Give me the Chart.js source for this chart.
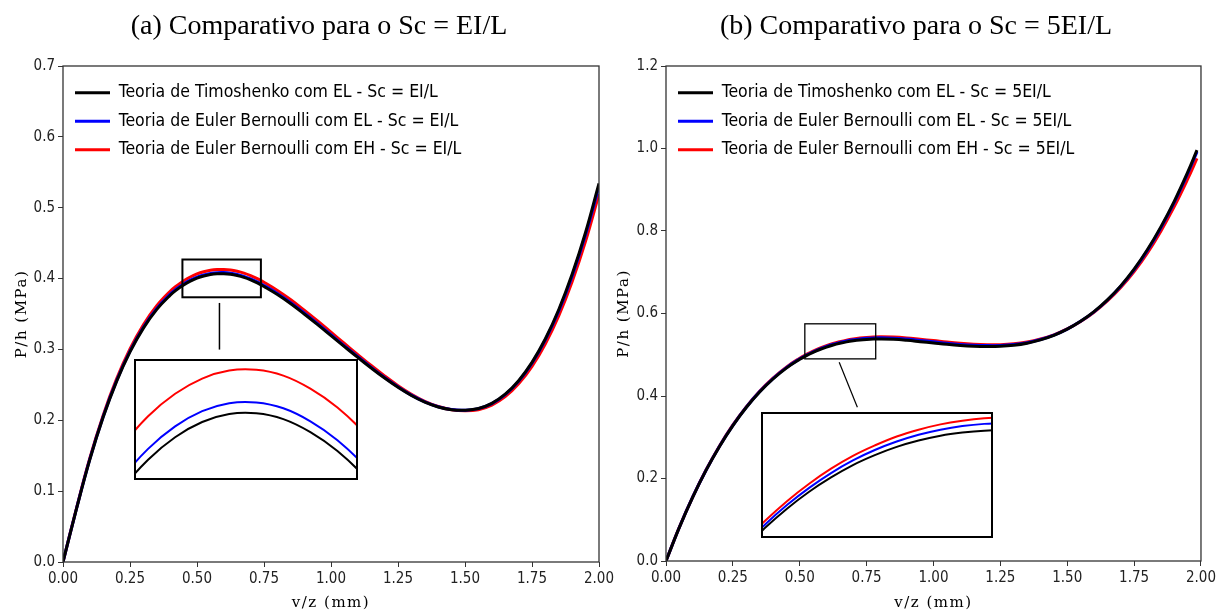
<!DOCTYPE html>
<html lang="pt">
<head>
<meta charset="UTF-8">
<title>Comparativo Sc</title>
<script src="https://cdn.jsdelivr.net/npm/chart.js@4.4.1/dist/chart.umd.min.js"></script>
<style>
  body { margin: 0; background: #fff; }
  #figure { position: relative; width: 1219px; height: 613px; overflow: hidden; }
  .pane { position: absolute; top: 0; height: 613px; }
  .inset { position: absolute; background: #fff; }
</style>
</head>
<body>
<div id="figure">
  <div class="pane" style="left:0;width:630px"><canvas id="chartA"></canvas></div>
  <div class="pane" style="left:610px;width:609px"><canvas id="chartB"></canvas></div>
  <div class="inset" style="left:134px;top:359px;width:224px;height:121px"><canvas id="insetA"></canvas></div>
  <div class="inset" style="left:761px;top:412px;width:232px;height:126px"><canvas id="insetB"></canvas></div>
</div>
<script>
// (a) Sc = EI/L
const vzA = [0, 0.05, 0.1, 0.15, 0.2, 0.25, 0.3, 0.35, 0.4,
  0.425, 0.45, 0.475, 0.5, 0.525, 0.55, 0.575, 0.6, 0.625, 0.65, 0.675, 0.7, 0.725, 0.75,
  0.8, 0.85, 0.9, 0.95, 1.0, 1.05, 1.1, 1.15, 1.2, 1.25, 1.3, 1.35, 1.4, 1.45, 1.5,
  1.55, 1.6, 1.65, 1.7, 1.75, 1.8, 1.85, 1.9, 1.95, 2.0];
const timoA = [0, 0.0745, 0.1445, 0.2045, 0.2549, 0.2965, 0.3301, 0.3565, 0.3765,
  0.3844, 0.3909, 0.3963, 0.4005, 0.4036, 0.4057, 0.4068, 0.4069, 0.4061, 0.4043, 0.4017, 0.3982, 0.3939, 0.3888,
  0.3775, 0.3645, 0.3500, 0.3350, 0.3195, 0.3040, 0.2887, 0.2738, 0.2596, 0.2465, 0.2350, 0.2256, 0.2188, 0.2150, 0.2143,
  0.2166, 0.2239, 0.2368, 0.2559, 0.2818, 0.3151, 0.3564, 0.4063, 0.4654, 0.5343];
const eblA = [0, 0.0748, 0.1451, 0.2053, 0.2559, 0.2977, 0.3314, 0.3579, 0.3780,
  0.3859, 0.3924, 0.3978, 0.4020, 0.4051, 0.4072, 0.4083, 0.4084, 0.4076, 0.4058, 0.4032, 0.3997, 0.3954, 0.3903,
  0.3790, 0.3660, 0.3514, 0.3363, 0.3207, 0.3051, 0.2897, 0.2747, 0.2604, 0.2472, 0.2355, 0.2260, 0.2191, 0.2151, 0.2143,
  0.2164, 0.2234, 0.2361, 0.2549, 0.2806, 0.3136, 0.3544, 0.4038, 0.4622, 0.5303];
const ebhA = [0, 0.0755, 0.1465, 0.2073, 0.2584, 0.3007, 0.3349, 0.3617, 0.3821,
  0.3901, 0.3967, 0.4022, 0.4065, 0.4096, 0.4117, 0.4128, 0.4129, 0.4121, 0.4103, 0.4077, 0.4042, 0.3999, 0.3948,
  0.3833, 0.3701, 0.3554, 0.3401, 0.3243, 0.3084, 0.2927, 0.2773, 0.2626, 0.2489, 0.2368, 0.2268, 0.2194, 0.2149, 0.2135,
  0.2150, 0.2214, 0.2333, 0.2514, 0.2761, 0.3081, 0.3477, 0.3958, 0.4528, 0.5193];
const labelsA = [
  'Teoria de Timoshenko com EL - Sc = EI/L',
  'Teoria de Euler Bernoulli com EL - Sc = EI/L',
  'Teoria de Euler Bernoulli com EH - Sc = EI/L'
];

// (b) Sc = 5EI/L
const vzB = [0, 0.05, 0.1, 0.15, 0.2, 0.25, 0.3, 0.35, 0.4, 0.45, 0.5,
  0.525, 0.55, 0.575, 0.6, 0.625, 0.65, 0.675, 0.7, 0.725, 0.75, 0.775,
  0.8, 0.85, 0.9, 0.95, 1.0, 1.05, 1.1, 1.15, 1.2, 1.25, 1.3, 1.35, 1.4, 1.45, 1.5,
  1.55, 1.6, 1.65, 1.7, 1.75, 1.8, 1.85, 1.9, 1.95, 1.985];
const timoB = [0, 0.0817, 0.1549, 0.2202, 0.2778, 0.3283, 0.3720, 0.4096, 0.4412, 0.4676, 0.4889,
  0.4979, 0.5058, 0.5127, 0.5186, 0.5237, 0.5278, 0.5312, 0.5338, 0.5358, 0.5371, 0.5379,
  0.5381, 0.5373, 0.5350, 0.5318, 0.5285, 0.5252, 0.5225, 0.5207, 0.5200, 0.5205, 0.5230, 0.5280, 0.5360, 0.5470, 0.5620,
  0.5810, 0.6045, 0.6330, 0.6670, 0.7075, 0.7550, 0.8100, 0.8720, 0.9420, 0.9960];
const eblB = [0, 0.0818, 0.1552, 0.2206, 0.2784, 0.3290, 0.3728, 0.4106, 0.4423, 0.4688, 0.4902,
  0.4993, 0.5073, 0.5143, 0.5204, 0.5256, 0.5299, 0.5334, 0.5362, 0.5383, 0.5398, 0.5407,
  0.5410, 0.5403, 0.5380, 0.5348, 0.5315, 0.5280, 0.5251, 0.5231, 0.5222, 0.5224, 0.5246, 0.5293, 0.5370, 0.5476, 0.5623,
  0.5810, 0.6040, 0.6322, 0.6658, 0.7059, 0.7530, 0.8075, 0.8690, 0.9384, 0.9920];
const ebhB = [0, 0.0820, 0.1554, 0.2211, 0.2790, 0.3298, 0.3738, 0.4117, 0.4435, 0.4701, 0.4916,
  0.5008, 0.5089, 0.5160, 0.5222, 0.5275, 0.5318, 0.5355, 0.5383, 0.5405, 0.5420, 0.5430,
  0.5434, 0.5429, 0.5408, 0.5376, 0.5343, 0.5307, 0.5277, 0.5256, 0.5245, 0.5245, 0.5265, 0.5309, 0.5382, 0.5484, 0.5625,
  0.5805, 0.6030, 0.6303, 0.6630, 0.7017, 0.7470, 0.7997, 0.8590, 0.9255, 0.9760];
const labelsB = [
  'Teoria de Timoshenko com EL - Sc = 5EI/L',
  'Teoria de Euler Bernoulli com EL - Sc = 5EI/L',
  'Teoria de Euler Bernoulli com EH - Sc = 5EI/L'
];

// tick labels
const xTicks = [0, 0.25, 0.5, 0.75, 1.0, 1.25, 1.5, 1.75, 2.0];
const yTicksA = [0, 0.1, 0.2, 0.3, 0.4, 0.5, 0.6, 0.7];
const yTicksB = [0, 0.2, 0.4, 0.6, 0.8, 1.0, 1.2];

const colors = ['#000000', '#0000ff', '#ff0000'];
const sansFont = '"DejaVu Sans Condensed", "DejaVu Sans", sans-serif';
const serifFont = '"DejaVu Serif", serif';

// frame, title, axis titles and zoom marks, drawn on top of the chart
const figurePlugin = {
  id: 'figure',
  afterLayout(chart, args, o) {
    // legend sits inside the plot, a few px below its top edge
    const lg = chart.legend;
    if (o.legendShift && lg) {
      const a = chart.chartArea;
      lg.left = a.left + o.legendShift.x;
      lg.top = a.top + o.legendShift.y;
      lg.bottom = a.bottom;
    }
  },
  afterDraw(chart, args, o) {
    const {ctx, chartArea: a} = chart;
    ctx.save();
    if (o.frame) {
      const d = o.frame.inset || 0;
      ctx.strokeStyle = o.frame.color;
      ctx.lineWidth = o.frame.width;
      ctx.strokeRect(a.left + d, a.top + d, a.right - a.left - 2 * d, a.bottom - a.top - 2 * d);
    }
    if (o.zoom) {
      const {x, y} = chart.scales;
      const z = o.zoom;
      const x0 = x.getPixelForValue(z.x[0]), x1 = x.getPixelForValue(z.x[1]);
      const y0 = y.getPixelForValue(z.y[1]), y1 = y.getPixelForValue(z.y[0]);
      ctx.strokeStyle = '#000';
      ctx.lineWidth = z.width;
      ctx.strokeRect(x0, y0, x1 - x0, y1 - y0);
      ctx.lineWidth = z.leaderWidth;
      ctx.beginPath();
      ctx.moveTo(x.getPixelForValue(z.leader[0][0]), y.getPixelForValue(z.leader[0][1]));
      ctx.lineTo(x.getPixelForValue(z.leader[1][0]), y.getPixelForValue(z.leader[1][1]));
      ctx.stroke();
    }
    ctx.fillStyle = '#000';
    if (o.title) {
      ctx.font = '28px "Liberation Serif", "Times New Roman", serif';
      ctx.textAlign = 'center';
      ctx.textBaseline = 'alphabetic';
      ctx.fillText(o.title.text, o.title.x, o.title.y);
    }
    if (o.axisTitles) {
      const t = o.axisTitles;
      ctx.font = '15px ' + serifFont;
      ctx.letterSpacing = t.spacing + 'px';
      ctx.textAlign = 'center';
      ctx.textBaseline = 'middle';
      ctx.fillText(t.x, (a.left + a.right) / 2, t.xPos);
      ctx.translate(t.yPos, (a.top + a.bottom) / 2);
      ctx.rotate(-Math.PI / 2);
      ctx.fillText(t.y, 0, 0);
    }
    ctx.restore();
  }
};
Chart.register(figurePlugin);

function series(xs, ys) {
  return xs.map((x, i) => ({x: x, y: ys[i]}));
}

function datasets(xs, list, labels, width) {
  return list.map((ys, i) => ({
    label: labels[i],
    data: series(xs, ys),
    borderColor: colors[i],
    backgroundColor: colors[i],
    borderWidth: width,
    pointRadius: 0,
    tension: 0.4,
    fill: false
  }));
}

function mainChart(id, xs, list, labels, yTicks, yMax, cfg) {
  const tickFont = {family: sansFont, size: 15};
  return new Chart(document.getElementById(id), {
    type: 'line',
    data: {datasets: datasets(xs, list, labels, 3)},
    options: {
      animation: false,
      responsive: true,
      maintainAspectRatio: false,
      events: [],
      layout: {padding: cfg.padding, autoPadding: false},
      scales: {
        x: {
          type: 'linear', min: 0, max: 2,
          afterBuildTicks: s => { s.ticks = xTicks.map(v => ({value: v})); },
          afterFit: s => { s.height = cfg.xHeight; },
          grid: {drawOnChartArea: false, drawTicks: true, tickLength: 5, color: '#333'},
          border: {display: false},
          ticks: {color: '#222', font: tickFont, padding: 3, maxRotation: 0,
                  callback: v => v.toFixed(2)}
        },
        y: {
          type: 'linear', min: 0, max: yMax,
          afterBuildTicks: s => { s.ticks = yTicks.map(v => ({value: v})); },
          afterFit: s => { s.width = cfg.yWidth; },
          grid: {drawOnChartArea: false, drawTicks: true, tickLength: 5, color: '#333'},
          border: {display: false},
          ticks: {color: '#222', font: tickFont, padding: 3,
                  callback: v => v.toFixed(1)}
        }
      },
      plugins: {
        tooltip: {enabled: false},
        legend: {
          position: 'chartArea',
          align: 'start',
          labels: {
            usePointStyle: true,
            pointStyle: 'line',
            pointStyleWidth: 35,
            padding: 11,
            color: '#000',
            font: {family: sansFont, size: 17.5}
          }
        },
        figure: {
          legendShift: {x: 1, y: 7},
          frame: {color: '#333', width: 1.3},
          zoom: cfg.zoom,
          title: cfg.title,
          axisTitles: {x: 'v/z (mm)', y: 'P/h (MPa)', xPos: 603, yPos: cfg.yTitleX, spacing: 1.5}
        }
      }
    }
  });
}

function insetChart(id, xs, list, range) {
  return new Chart(document.getElementById(id), {
    type: 'line',
    data: {datasets: datasets(xs, list, ['', '', ''], 2)},
    options: {
      animation: false,
      responsive: true,
      maintainAspectRatio: false,
      events: [],
      layout: {padding: 0, autoPadding: false},
      scales: {
        x: {type: 'linear', min: range.x[0], max: range.x[1], display: false},
        y: {type: 'linear', min: range.y[0], max: range.y[1], display: false}
      },
      plugins: {
        legend: {display: false},
        tooltip: {enabled: false},
        figure: {frame: {color: '#000', width: 2, inset: 1}}
      }
    }
  });
}

mainChart('chartA', vzA, [timoA, eblA, ebhA], labelsA, yTicksA, 0.7, {
  padding: {left: 0, right: 31, top: 66, bottom: 0},
  xHeight: 51, yWidth: 63, yTitleX: 22,
  title: {text: '(a) Comparativo para o Sc = EI/L', x: 319, y: 34},
  zoom: {x: [0.4456, 0.7384], y: [0.3736, 0.4269], width: 2,
         leader: [[0.5838, 0.3656], [0.5838, 0.2998]], leaderWidth: 1.5}
});

mainChart('chartB', vzB, [timoB, eblB, ebhB], labelsB, yTicksB, 1.2, {
  padding: {left: 0, right: 15, top: 66, bottom: 0},
  xHeight: 52, yWidth: 56, yTitleX: 14,
  title: {text: '(b) Comparativo para o Sc = 5EI/L', x: 306, y: 34},
  zoom: {x: [0.519, 0.784], y: [0.490, 0.575], width: 1.3,
         leader: [[0.6475, 0.4817], [0.7154, 0.3726]], leaderWidth: 1.2}
});

insetChart('insetA', vzA, [timoA, eblA, ebhA], {x: [0.487, 0.694], y: [0.3977, 0.4144]});
insetChart('insetB', vzB, [timoB, eblB, ebhB], {x: [0.52, 0.785], y: [0.4936, 0.5456]});
</script>
</body>
</html>
